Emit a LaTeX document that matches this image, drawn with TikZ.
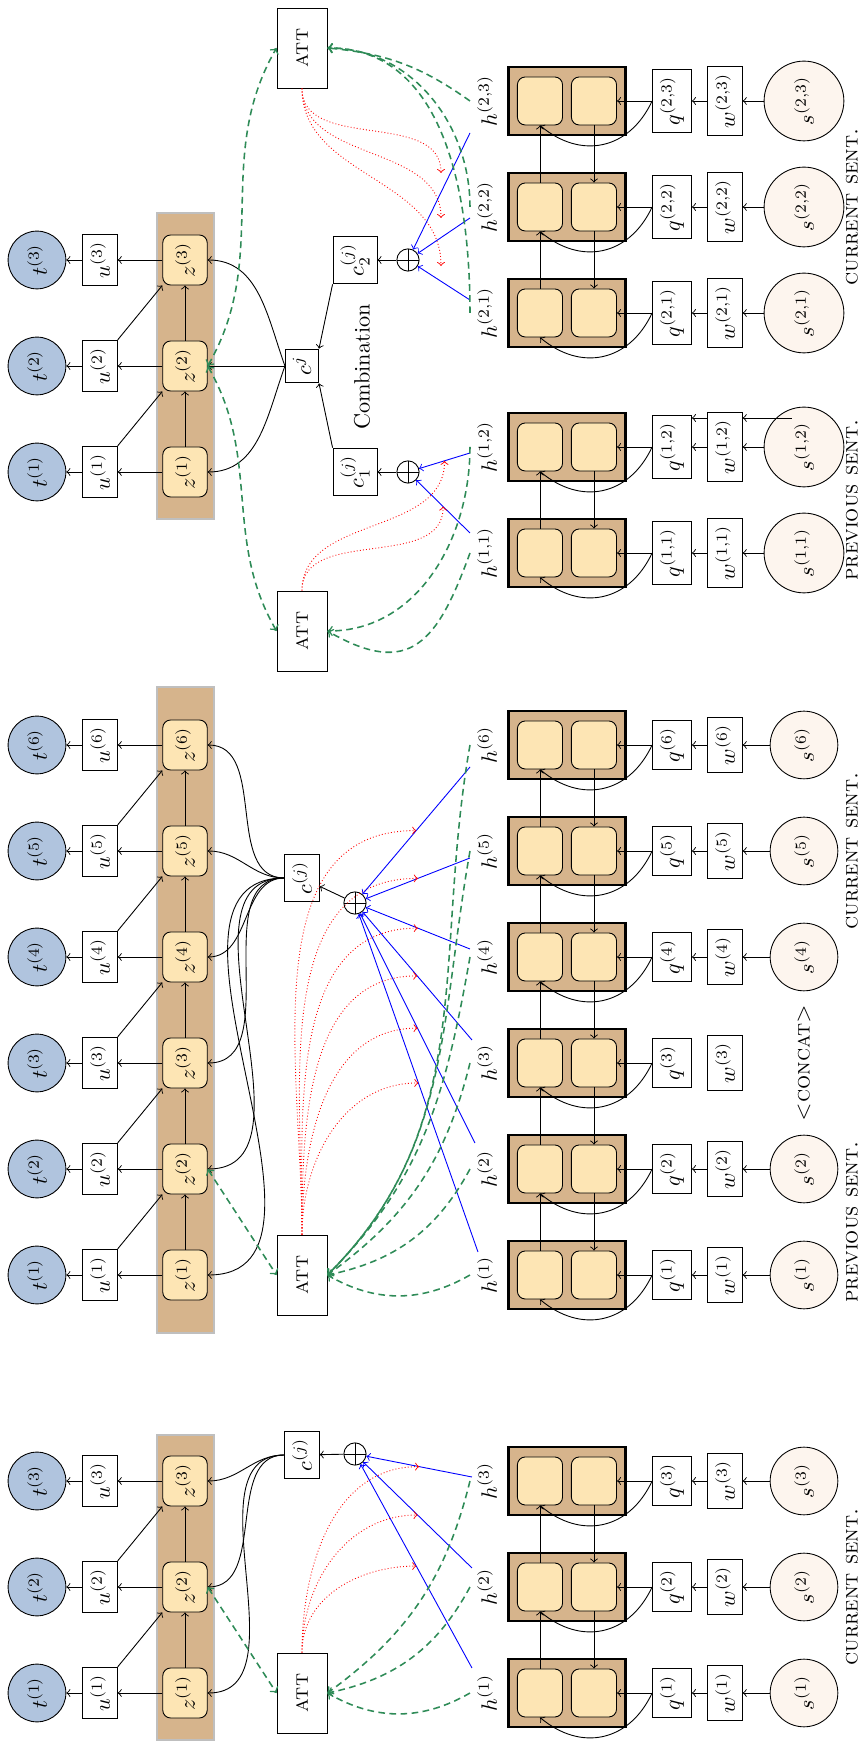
\documentclass[tikz,border=0pt]{standalone}
\usepackage{amsmath,amssymb}
\usepackage{tikz}
\usetikzlibrary{calc}

\definecolor{tcol}{RGB}{176,196,222}
\definecolor{scol}{RGB}{253,245,238}
\definecolor{zcol}{RGB}{253,229,180}
\definecolor{barcol}{RGB}{214,180,140}
\definecolor{attgreen}{RGB}{46,139,87}

\begin{document}
\begin{tikzpicture}[x=0.45pt, y=0.45pt, rotate=90, transform shape,
  tnode/.style={circle, draw, fill=tcol, minimum size=26pt, inner sep=1pt},
  snode/.style={circle, draw, fill=scol, inner sep=4.6pt},
  lbox/.style={rectangle, draw, fill=white},
  znode/.style={rectangle, draw, rounded corners=3.5pt, fill=zcol, minimum width=21pt, minimum height=20pt},
  cell/.style={rectangle, draw, rounded corners=3.5pt, fill=zcol, minimum width=21.6pt, minimum height=20.3pt},
  block/.style={rectangle, draw, line width=1.2pt, fill=barcol, minimum width=30.6pt, minimum height=52.7pt},
  attbox/.style={rectangle, draw, fill=white, minimum width=36pt, minimum height=22.5pt, font=\scshape},
  oplus/.style={circle, draw, fill=white, minimum size=10pt, inner sep=0pt,
    path picture={\draw (path picture bounding box.north) -- (path picture bounding box.south)
      (path picture bounding box.west) -- (path picture bounding box.east);}},
  zbar/.style={fill=barcol, draw=black!25, line width=1pt},
  blueline/.style={blue, ->},
  redline/.style={red, densely dotted, ->},
  greenline/.style={attgreen, dash pattern=on 3pt off 2pt, line width=0.7pt, ->},
  lbl/.style={font=\scshape}]
  \useasboundingbox (0,0) rectangle (1742,862);

  % decoder bars
  \draw[zbar] (2,648) rectangle (307,705);
  \draw[zbar] (409,648) rectangle (1055,705);
  \draw[zbar] (1223,648) rectangle (1529,705);

  % decoder columns
  \foreach \p/\i/\x in {A/1/49, A/2/155, A/3/261, B/1/467, B/2/573, B/3/679,
      B/4/785, B/5/891, B/6/997, C/1/1270, C/2/1376, C/3/1482} {
    \node[tnode] (t\p\i) at (\x,825) {$t^{(\i)}$};
    \node[lbox] (u\p\i) at (\x,762) {$u^{(\i)}$};
    \node[znode] (z\p\i) at (\x,677) {$z^{(\i)}$};
    \draw[->] (z\p\i) -- (u\p\i);
    \draw[->] (u\p\i) -- (t\p\i);
  }
  \foreach \p/\a/\b in {A/1/2, A/2/3, B/1/2, B/2/3, B/3/4, B/4/5, B/5/6, C/1/2, C/2/3} {
    \draw[->] (z\p\a) -- (z\p\b);
    \draw[->] (u\p\a.south east) -- (z\p\b.north west);
  }

  % encoder columns
  \foreach \p/\i/\x/\l in {A/1/49/1, A/2/155/2, A/3/261/3, B/1/467/1, B/2/573/2,
      B/3/679/3, B/4/785/4, B/5/891/5, B/6/997/6, C/1/1189/{1,1}, C/2/1295/{1,2},
      C/3/1429/{2,1}, C/4/1535/{2,2}, C/5/1641/{2,3}} {
    \node[block] (bk\p\i) at (\x,295) {};
    \node[cell] (up\p\i) at (\x,322) {};
    \node[cell] (lo\p\i) at (\x,268) {};
    \node (h\p\i) at (\x,375) {$h^{(\l)}$};
    \node[lbox] (q\p\i) at (\x,190) {$q^{(\l)}$};
    \node[lbox] (w\p\i) at (\x,137) {$w^{(\l)}$};
    \coordinate (g\p\i) at (\x,392);
    \draw[->] (q\p\i) -- (lo\p\i);
    \draw[->] (q\p\i.north) to[out=155, in=230, looseness=1.2] (up\p\i.west);
  }
  \foreach \p/\i/\x/\l in {A/1/49/1, A/2/155/2, A/3/261/3, B/1/467/1, B/2/573/2,
      B/4/785/4, B/5/891/5, B/6/997/6, C/1/1189/{1,1}, C/2/1295/{1,2},
      C/3/1429/{2,1}, C/4/1535/{2,2}, C/5/1641/{2,3}} {
    \node[snode] (s\p\i) at (\x,58) {$s^{(\l)}$};
    \draw[->] (s\p\i) -- (w\p\i);
    \draw[->] (w\p\i) -- (q\p\i);
  }
  \foreach \p/\a/\b in {A/1/2, A/2/3, B/1/2, B/2/3, B/3/4, B/4/5, B/5/6, C/1/2, C/3/4, C/4/5} {
    \draw[->] (up\p\a) -- (up\p\b);
    \draw[->] (lo\p\b) -- (lo\p\a);
  }
  \draw[->] ($(sC2.center)+(29,12)$) -- ($(wC2.south)+(29,0)$);
  \draw[->] ($(wC2.north)+(29,0)$) -- ($(qC2.south)+(29,0)$);

  % starts of the blue lines
  \foreach \p/\i/\x/\y in {A/1/74/390, A/2/174/390, A/3/265/390, B/1/490/384,
      B/2/599/387, B/3/702/390, B/4/793/392, B/5/884/392, B/6/975/392,
      C/1/1209/392, C/2/1289/392, C/3/1442/392, C/4/1524/392, C/5/1609/392}
    \coordinate (b\p\i) at (\x,\y);

  % panel A
  \node[attbox] (attA) at (49,560) {att};
  \node[lbox] (cA) at (287,560) {$c^{(j)}$};
  \node[oplus] (oA) at (288,507) {};
  \draw[->] (oA) -- (cA);
  \foreach \i in {1,2,3}
    \draw[->] (cA.north) to[out=90, in=-90] (zA\i.south);
  \foreach \i in {1,2,3} {
    \draw[blueline] (bA\i) -- coordinate[pos=.5] (mA\i) (oA);
    \draw[redline] (attA.east) to[out=0, in=90] (mA\i);
  }
  \draw[greenline, <->] (zA2.south) -- (attA.north);
  \draw[greenline] (gA1) to[bend left=30] (attA.south);
  \draw[greenline] (gA2) to[bend left=25] (attA.south);
  \draw[greenline] (gA3) to[bend left=20] (attA.south);
  \node[lbl] (capA) at (155,10) {current sent.};

  % panel B
  \node[attbox] (attB) at (467,560) {att};
  \node[lbox] (cB) at (864,560) {$c^{(j)}$};
  \node[oplus] (oB) at (839,507) {};
  \draw[->] (oB) -- (cB);
  \foreach \i in {1,...,6}
    \draw[->] (cB.north) to[out=90, in=-90] (zB\i.south);
  \foreach \i in {1,...,6} {
    \draw[blueline] (bB\i) -- coordinate[pos=.5] (mB\i) (oB);
    \draw[redline] (attB.east) to[out=0, in=90] (mB\i);
  }
  \draw[greenline, <->] (zB2.south) -- (attB.north);
  \draw[greenline] (gB1) to[bend left=30] (attB.south);
  \draw[greenline] (gB2) to[bend left=25] (attB.south);
  \draw[greenline] (gB3) to[bend left=20] (attB.south);
  \foreach \i in {4,5,6}
    \draw[greenline] (gB\i) to[out=170, in=-45] (attB.south);
  \node[lbl] (capB1) at (520,10) {previous sent.};
  \node[lbl] (concat) at (679,58) {<concat>};
  \node[lbl] (capB2) at (891,10) {current sent.};

  % panel C
  \node[attbox] (attC1) at (1111,560) {att};
  \node[attbox] (attC2) at (1694,560) {att};
  \node[lbox] (cj) at (1376,560) {$c^{j}$};
  \node[lbox] (cC1) at (1270,507) {$c_1^{(j)}$};
  \node[lbox] (cC2) at (1482,507) {$c_2^{(j)}$};
  \node[oplus] (oC1) at (1270,454) {};
  \node[oplus] (oC2) at (1482,454) {};
  \node (comb) at (1375,500) {Combination};
  \draw[->] (oC1) -- (cC1);
  \draw[->] (oC2) -- (cC2);
  \draw[->] (cC1.north east) -- (cj.south west);
  \draw[->] (cC2.north west) -- (cj.south east);
  \draw[->] (cj) -- (zC2);
  \draw[->] (cj.north) to[out=160, in=-90] (zC1.south);
  \draw[->] (cj.north) to[out=20, in=-90] (zC3.south);
  \foreach \i in {1,2} {
    \draw[blueline] (bC\i) -- coordinate[pos=.5] (mC\i) (oC1);
    \draw[redline] (attC1.east) to[out=0, in=180] (mC\i);
  }
  \coordinate (rC3) at (1476,421);
  \coordinate (rC4) at (1524,421);
  \coordinate (rC5) at (1569,421);
  \foreach \i in {3,4,5} {
    \draw[blueline] (bC\i) -- (oC2);
    \draw[redline] (attC2.west) to[out=180, in=0] (rC\i);
  }
  \draw[greenline, <->] (zC2.south) to[out=-150, in=30] (attC1.north);
  \draw[greenline, <->] (zC2.south) to[out=-30, in=150] (attC2.north);
  \draw[greenline] (gC1) to[out=160, in=-120, looseness=1.5] (attC1.south);
  \draw[greenline] (gC2) to[out=180, in=-90] (attC1.south);
  \draw[greenline] (gC3) to[out=0, in=-90] (attC2.south);
  \draw[greenline] (gC4) to[out=0, in=-90] (attC2.south);
  \draw[greenline] (gC5) to[bend right=15] (attC2.south);
  \node[lbl] (capC1) at (1242,10) {previous sent.};
  \node[lbl] (capC2) at (1535,10) {current sent.};
\end{tikzpicture}
\end{document}
